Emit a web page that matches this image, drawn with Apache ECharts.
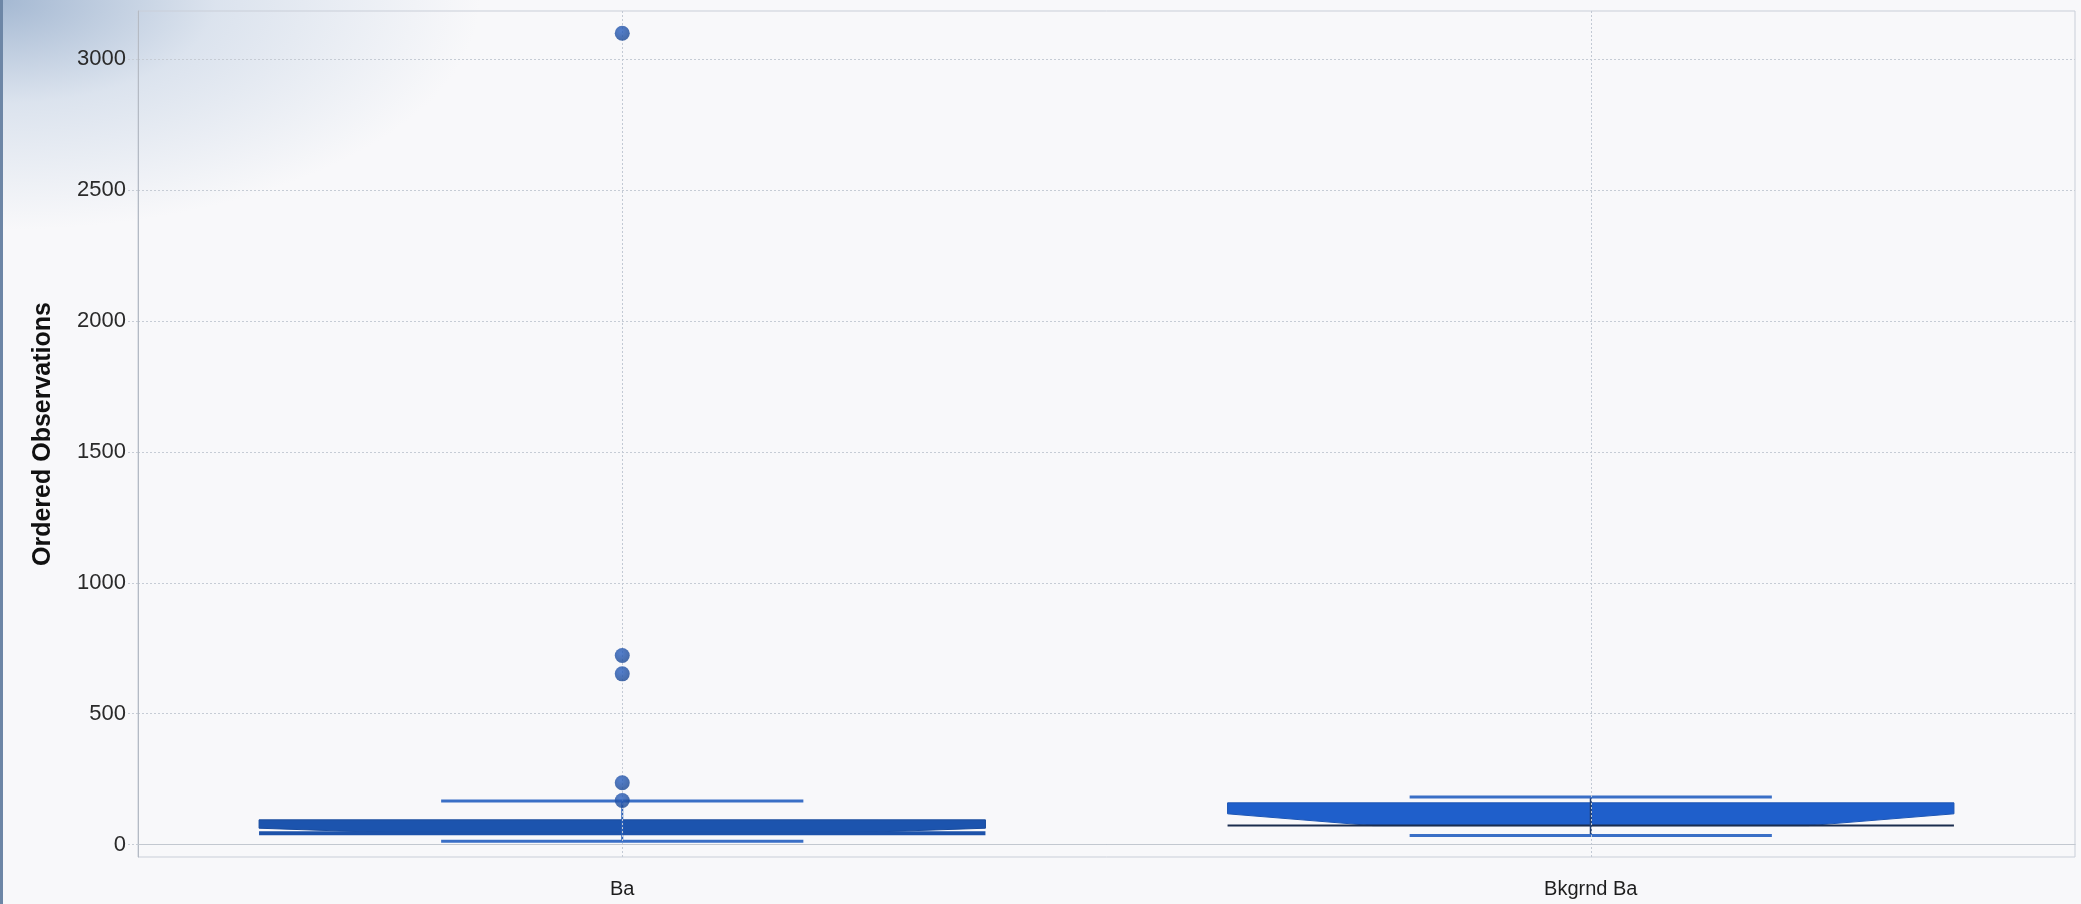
<!DOCTYPE html>
<html>
<head>
<meta charset="utf-8">
<script src="https://cdn.jsdelivr.net/npm/echarts@6/dist/echarts.min.js"></script>
<style>
html,body{margin:0;padding:0;width:2081px;height:904px;overflow:hidden;}
body{
  background:
    radial-gradient(ellipse 480px 230px at 0 0, rgba(160,181,208,0.95) 0%, rgba(196,210,228,0.55) 45%, rgba(248,248,251,0) 100%),
    #f8f8fa;
}
#edge{position:absolute;left:0;top:0;width:3px;height:904px;background:#6d86a6;}
#chart{position:absolute;left:0;top:0;width:2081px;height:904px;}
</style>
</head>
<body>
<div id="edge"></div>
<div id="chart"></div>
<script>
// ---- data ----
const categories = ['Ba', 'Bkgrnd Ba'];
const whiskerLow  = [12, 34];
const q1          = [43, 72];
const notchEdge   = [62, 117];
const q3          = [94, 159];
const whiskerHigh = [166, 181];
const outliersBa  = [3100, 722, 652, 236, 168];
const yTicks      = [0, 500, 1000, 1500, 2000, 2500, 3000];

const boxRows = categories.map((c, i) => [i, whiskerLow[i], q1[i], notchEdge[i], q3[i], whiskerHigh[i]]);
const outlierRows = outliersBa.map(v => ['Ba', v]);

const chart = echarts.init(document.getElementById('chart'), null, {renderer: 'canvas'});

function renderBox(params, api) {
  const i = api.value(0);
  const cx = api.coord([i, 0])[0];
  const band = api.size([1, 0])[0];
  const hw = band * 0.375;
  const cw = band * 0.187;
  const inner = hw * 0.6;
  const y = v => api.coord([i, api.value(v)])[1];
  const yLo = y(1), yQ1 = y(2), yN = y(3), yQ3 = y(4), yHi = y(5);
  const fill = i === 0 ? '#1c54ae' : '#1f5fcb';
  const children = [
    {
      type: 'polygon',
      shape: {points: [
        [cx - hw, yQ3], [cx + hw, yQ3], [cx + hw, yN], [cx + inner, yQ1],
        [cx - inner, yQ1], [cx - hw, yN]
      ]},
      style: {fill: fill, stroke: i === 0 ? '#1a4c9e' : '#1c55b4', lineWidth: 1}
    },
    {
      type: 'line',
      shape: {x1: cx - hw, y1: yQ1, x2: cx + hw, y2: yQ1},
      style: {stroke: i === 0 ? '#1d52aa' : '#1b2d4e', lineWidth: i === 0 ? 4 : 2}
    },
    {
      type: 'line',
      shape: {x1: cx, y1: yLo, x2: cx, y2: yHi},
      style: {stroke: i === 0 ? '#2c62b8' : '#223f70', lineWidth: 2}
    },
    {
      type: 'line',
      shape: {x1: cx - cw, y1: yHi, x2: cx + cw, y2: yHi},
      style: {stroke: '#3a6fc6', lineWidth: 3}
    },
    {
      type: 'line',
      shape: {x1: cx - cw, y1: yLo, x2: cx + cw, y2: yLo},
      style: {stroke: '#3a6fc6', lineWidth: 3}
    }
  ];
  return {type: 'group', children: children};
}

const option = {
  backgroundColor: 'transparent',
  animation: false,
  grid: {
    left: 138, right: 6, top: 11, bottom: 47,
    show: true, borderColor: '#c9ced8', borderWidth: 1, backgroundColor: 'transparent'
  },
  xAxis: {
    type: 'category',
    data: categories,
    boundaryGap: true,
    axisLine: {lineStyle: {color: '#b4bac4', width: 1}},
    axisTick: {show: false},
    axisLabel: {color: '#1e1e1e', fontSize: 20, fontFamily: 'Liberation Sans, Arial, sans-serif', margin: 22},
    splitLine: {show: false}
  },
  yAxis: {
    type: 'value',
    min: -48, max: 3185,
    name: 'Ordered Observations',
    nameLocation: 'middle',
    nameGap: 82,
    nameTextStyle: {fontSize: 25, fontWeight: 'bold', color: '#111', fontFamily: 'Liberation Sans, Arial, sans-serif'},
    axisLine: {show: true, lineStyle: {color: '#b4bac4', width: 1}},
    axisTick: {show: true, customValues: yTicks, length: 10, lineStyle: {color: '#c6ccd5', type: [2, 2]}},
    axisLabel: {
      customValues: yTicks,
      formatter: v => String(v),
      color: '#2a2a2a', fontSize: 22, margin: 12,
      fontFamily: 'Liberation Sans, Arial, sans-serif'
    },
    splitLine: {show: true, lineStyle: {color: '#c6ccd5', type: [2, 2], width: 1}}
  },
  series: [
    {
      type: 'scatter',
      data: [],
      silent: true,
      z: 1,
      markLine: {
        silent: true,
        symbol: 'none',
        label: {show: false},
        lineStyle: {color: '#c2c9d4', type: [2, 2], width: 1},
        data: [
          {xAxis: categories[0]},
          {xAxis: categories[1]},
          {yAxis: 0, lineStyle: {color: '#c3c8d0', type: 'solid', width: 1}}
        ]
      }
    },
    {
      type: 'custom',
      renderItem: renderBox,
      data: boxRows,
      encode: {x: 0, y: [1, 2, 3, 4, 5]},
      z: 3
    },
    {
      type: 'scatter',
      data: outlierRows,
      symbol: 'circle',
      symbolSize: 15,
      z: 5,
      itemStyle: {
        color: new echarts.graphic.RadialGradient(0.4, 0.35, 0.7, [
          {offset: 0, color: '#2a60c0'},
          {offset: 1, color: '#184591'}
        ])
      }
    }
  ]
};
chart.setOption(option);
</script>
</body>
</html>
